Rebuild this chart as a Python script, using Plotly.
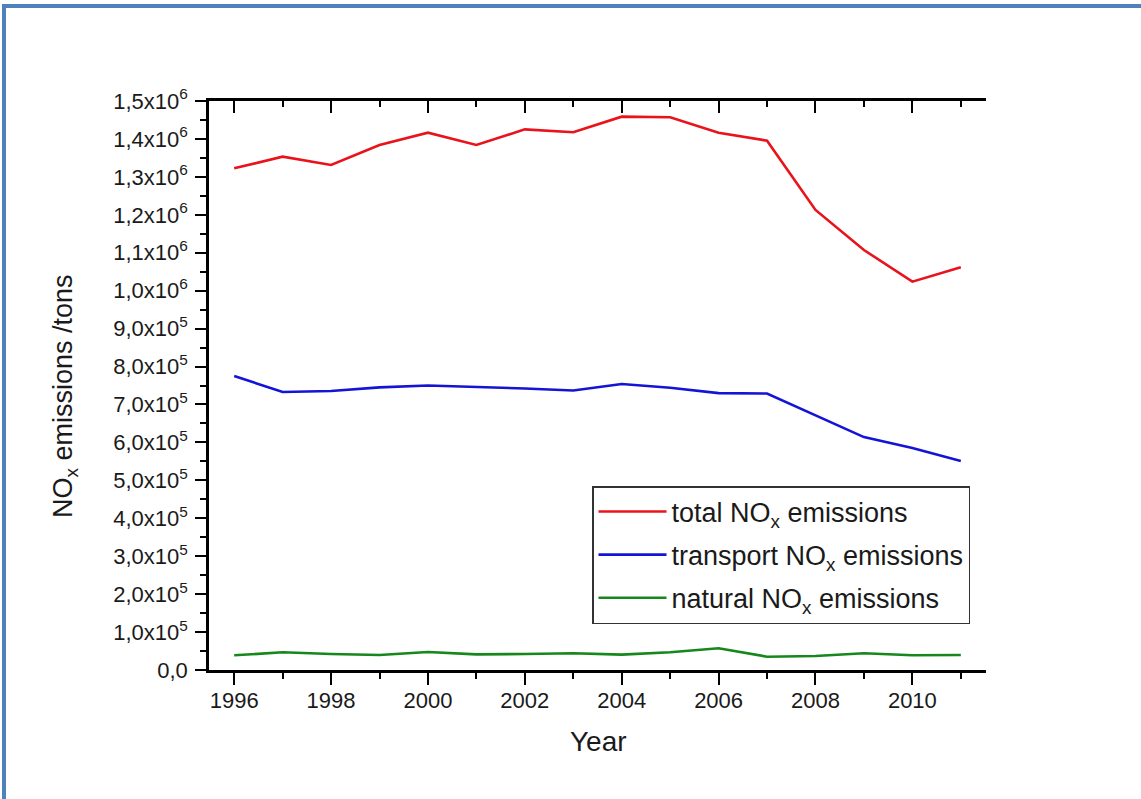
import plotly.graph_objects as go

years = list(range(1996, 2012))
total_nox = [1322600, 1353200, 1331300, 1384000, 1416500, 1384000, 1425300, 1417500,
             1458700, 1457000, 1416500, 1395400, 1212700, 1107200, 1023700, 1061500]
transport_nox = [775000, 732900, 735500, 745000, 750000, 747000, 742000, 737000,
                 754000, 744000, 730000, 729000, 671000, 614000, 585000, 551000]
natural_nox = [38700, 46600, 42200, 39500, 47500, 41300, 42000, 44000,
               40400, 46600, 57200, 35100, 36900, 44000, 38700, 39500]

series_names = ["total NO<sub>x</sub> emissions",
                "transport NO<sub>x</sub> emissions",
                "natural NO<sub>x</sub> emissions"]
series_colors = ["#E8131B", "#1414D6", "#16871A"]

y_tickvals = [i * 100000 for i in range(16)]
y_ticktext = ["0,0"] + [f"{i},0x10<sup>5</sup>" for i in range(1, 10)] + \
             [f"1,{i}x10<sup>6</sup>" for i in range(0, 6)]

FONT = "Liberation Sans, Arial, sans-serif"

fig = go.Figure()
for i, (name, vals, col) in enumerate(zip(series_names, [total_nox, transport_nox, natural_nox], series_colors)):
    fig.add_trace(go.Scatter(x=years, y=vals, mode="lines", name=name, legendgroup=f"g{i}",
                             line=dict(color=col, width=2.6)))
# invisible helper trace so the top (mirror) axis is drawn
fig.add_trace(go.Scatter(x=[years[0]], y=[0], xaxis="x2", mode="markers",
                         marker=dict(opacity=0), showlegend=False, hoverinfo="skip"))

W, H = 1141, 799
L, R, T, B = 209, 986, 101, 670

xrange_ = [1995.48, 2011.52]
fig.update_layout(
    width=W, height=H,
    margin=dict(l=L, r=W - R, t=T, b=H - B, autoexpand=False),
    paper_bgcolor="white", plot_bgcolor="white",
    font=dict(family=FONT, size=21, color="#1a1a1a"),
    showlegend=True,
    legend=dict(x=(592 - L) / (R - L), y=(B - 486) / (B - T), xanchor="left", yanchor="top",
                bordercolor="#333333", borderwidth=1.5, bgcolor="white",
                font=dict(size=27, color="#1a1a1a"), itemwidth=68,
                traceorder="grouped", tracegroupgap=5),
    xaxis=dict(range=xrange_, showline=True, linecolor="black", linewidth=2.5,
               ticks="outside", ticklen=12, tickwidth=2, tickcolor="black",
               tickmode="linear", tick0=1996, dtick=2, showgrid=False, zeroline=False,
               minor=dict(ticks="outside", ticklen=6, tickwidth=2, tickcolor="black",
                          dtick=1, tick0=1996, showgrid=False),
               tickfont=dict(size=22), ticklabelstandoff=-3),
    xaxis2=dict(range=xrange_, overlaying="x", side="top", showline=True, linecolor="black",
                linewidth=2.5, ticks="inside", ticklen=12, tickwidth=2, tickcolor="black",
                tickmode="linear", tick0=1996, dtick=2, showticklabels=False,
                showgrid=False, zeroline=False,
                minor=dict(ticks="inside", ticklen=6, tickwidth=2, tickcolor="black",
                           dtick=1, tick0=1996, showgrid=False)),
    yaxis=dict(range=[0, 1500000], showline=True, linecolor="black", linewidth=2.5,
               ticks="outside", ticklen=11, tickwidth=2, tickcolor="black",
               tickmode="array", tickvals=y_tickvals, ticktext=y_ticktext,
               showgrid=False, zeroline=False,
               minor=dict(ticks="outside", ticklen=6, tickwidth=2, tickcolor="black",
                          dtick=50000, tick0=0, showgrid=False),
               tickfont=dict(size=22), ticklabelstandoff=3),
)

# axis titles
fig.add_annotation(text="Year", xref="paper", yref="paper",
                   x=(598 - L) / (R - L), y=(B - 741) / (B - T),
                   showarrow=False, font=dict(size=28, color="#1a1a1a"),
                   xanchor="center", yanchor="middle")
fig.add_annotation(text="NO<sub>x</sub> emissions /tons", xref="paper", yref="paper",
                   x=(65 - L) / (R - L), y=(B - 396) / (B - T), textangle=-90,
                   showarrow=False, font=dict(size=27, color="#1a1a1a"),
                   xanchor="center", yanchor="middle")

# page frame (blue border at top and left)
def px_x(v):
    return (v - L) / (R - L)

def px_y(v):
    return (B - v) / (B - T)

frame_col = "#4F81BD"
fig.add_shape(type="rect", xref="paper", yref="paper", x0=px_x(2), x1=px_x(1141),
              y0=px_y(8), y1=px_y(4), fillcolor=frame_col, line_width=0, layer="above")
fig.add_shape(type="rect", xref="paper", yref="paper", x0=px_x(2), x1=px_x(6),
              y0=px_y(799), y1=px_y(4), fillcolor=frame_col, line_width=0, layer="above")

fig.write_html("out.html", config={"displayModeBar": False},
               post_script="document.body.style.margin='0';document.body.style.padding='0';")
